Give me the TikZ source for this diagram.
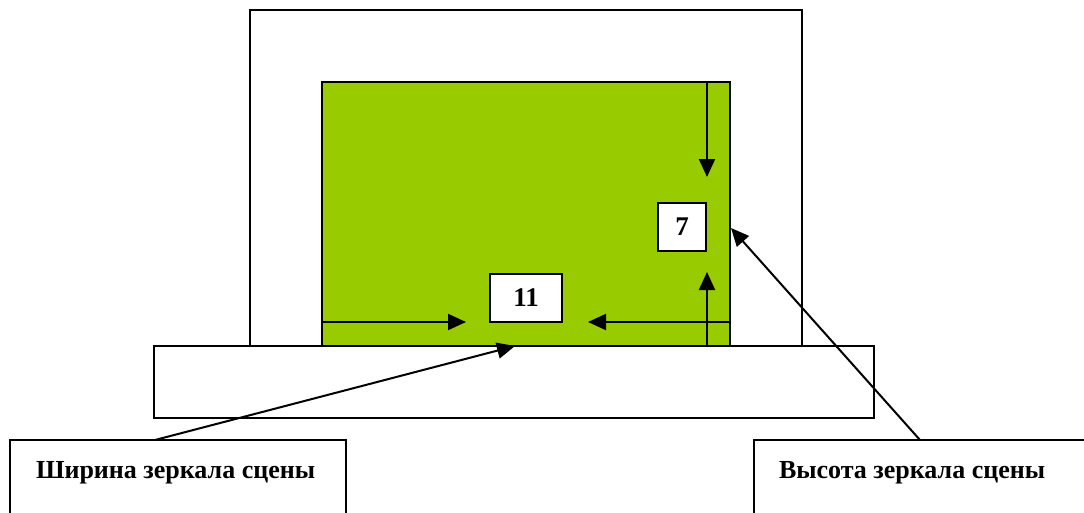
\documentclass[tikz,border=0pt]{standalone}
\usepackage{fontspec}
\setmainfont{Liberation Serif}
\usetikzlibrary{arrows.meta}
\definecolor{stagegreen}{HTML}{99CC00}
\begin{document}
\begin{tikzpicture}[x=1pt,y=-1pt,line width=2pt,
  box/.style={draw,fill=white,inner sep=0pt,font=\bfseries\fontsize{27}{30}\selectfont},
  lbltext/.style={anchor=base west,inner sep=0pt,font=\bfseries\fontsize{26}{30}\selectfont},
  arr/.style={-{Triangle[length=18pt,width=16pt]}}]
\clip (0,0) rectangle (1084,512);
\fill[white] (0,0) rectangle (1084,512);
% outer portal frame
\draw (250,10) rectangle (802,346);
% stage mirror
\draw[fill=stagegreen] (322,82) rectangle (730,346);
% base
\draw[fill=white] (154,346) rectangle (874,418);
% number boxes
\node[box,minimum width=48pt,minimum height=48pt,text depth=0pt] (seven) at (682,227) {7};
\node[box,minimum width=72pt,minimum height=48pt,text depth=0pt] (eleven) at (526,298) {11};
% dimension coordinates
\coordinate (vtop) at (707,82);
\coordinate (vtopend) at (707,177);
\coordinate (vbot) at (707,346);
\coordinate (vbotend) at (707,272);
\coordinate (hleft) at (322,322);
\coordinate (hleftend) at (466,322);
\coordinate (hright) at (730,322);
\coordinate (hrightend) at (588,322);
\draw[arr] (vtop) -- (vtopend);
\draw[arr] (vbot) -- (vbotend);
\draw[arr] (hleft) -- (hleftend);
\draw[arr] (hright) -- (hrightend);
% label boxes
\draw (10,440) rectangle (346,540);
\draw (754,440) rectangle (1090,540);
\node[lbltext] (wlbl) at (35,478) {Ширина зеркала сцены};
\node[lbltext] (hlbl) at (778,478) {Высота зеркала сцены};
\coordinate (wstart) at (155,440);
\coordinate (wtip) at (515,346);
\coordinate (hstart) at (920,440);
\coordinate (htip) at (731,228);
\draw[arr] (wstart) -- (wtip);
\draw[arr] (hstart) -- (htip);
\end{tikzpicture}
\end{document}
